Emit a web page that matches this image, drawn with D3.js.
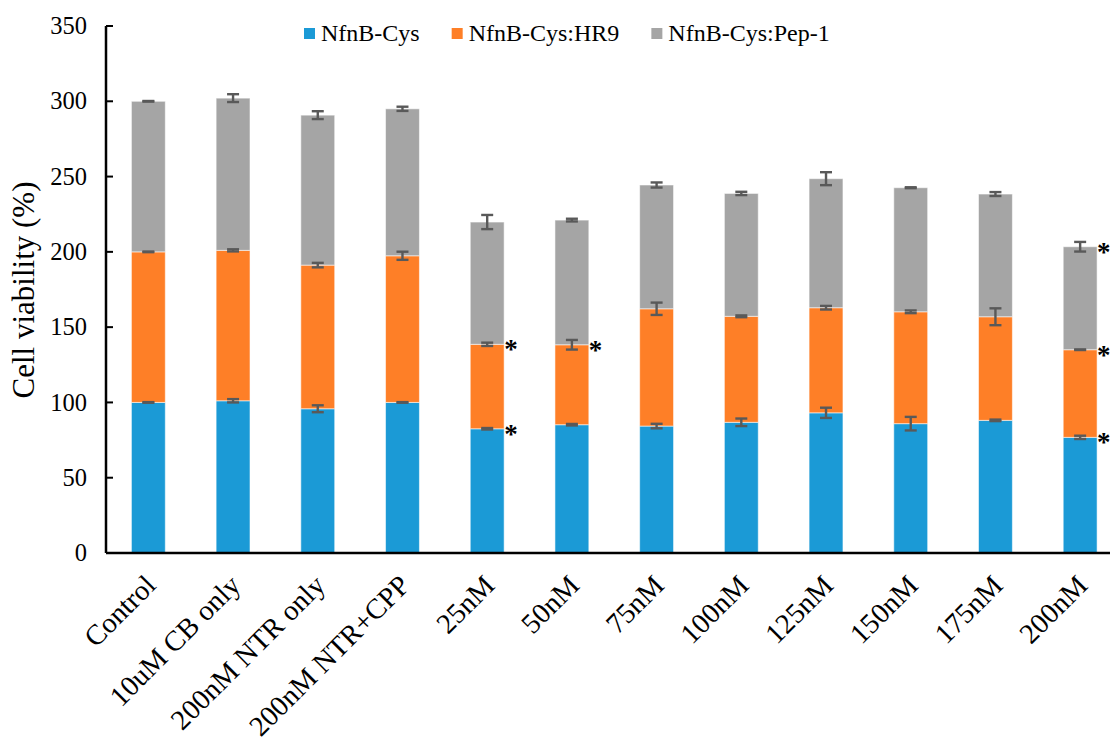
<!DOCTYPE html>
<html>
<head>
<meta charset="utf-8">
<script src="https://cdn.jsdelivr.net/npm/d3@7"></script>
<style>
  html, body { margin: 0; padding: 0; background: #fff; }
  svg { display: block; }
</style>
</head>
<body>
<svg id="chart" width="1110" height="742" font-family="'Liberation Serif', 'Times New Roman', Tinos, 'DejaVu Serif', serif"></svg>
<script>
// Treatment groups along the x axis
const categories = ["Control", "10uM CB only", "200nM NTR only", "200nM NTR+CPP",
  "25nM", "50nM", "75nM", "100nM", "125nM", "150nM", "175nM", "200nM"];

// Series names (stack order, bottom to top)
const seriesNames = ["NfnB-Cys", "NfnB-Cys:HR9", "NfnB-Cys:Pep-1"];

// Cell viability (%) of each construct, and its error (±)
const nfnbCys      = [100, 101.1, 95.8, 100, 82.5, 85.2, 84.3, 86.8, 93.1, 85.9, 88.1, 76.8];
const nfnbCysErr   = [0.2, 1.1, 2.3, 0.2, 0.5, 0.5, 1.5, 2.5, 3.4, 4.5, 0.5, 1.1];
const nfnbHR9      = [100, 99.9, 95.4, 97.4, 56.1, 53.1, 77.9, 70.4, 69.8, 74.3, 68.8, 58.2];
const nfnbHR9Err   = [0.2, 0.7, 1.5, 2.7, 1.1, 3.2, 4.1, 0.6, 1.2, 0.9, 5.6, 0.2];
const nfnbPep1     = [100, 101.1, 99.6, 97.6, 81.2, 82.8, 82.2, 81.6, 85.7, 82.4, 81.5, 68.4];
const nfnbPep1Err  = [0.2, 2.6, 2.6, 1.4, 4.7, 0.9, 1.7, 1.1, 4.3, 0.3, 1.3, 3.2];

// Significance marks: [category, series index]
const significant = [["25nM", 0], ["25nM", 1], ["50nM", 1], ["200nM", 0], ["200nM", 1], ["200nM", 2]];

// Y axis ticks
const yTicks = [0, 50, 100, 150, 200, 250, 300, 350];

const colors = ["#1b9ad6", "#fe7f27", "#a5a5a5"];

const svg = d3.select("#chart");

const x = d3.scaleBand()
  .domain(categories)
  .range([106, 1122.5])
  .paddingInner(0.6)
  .paddingOuter(0.3);

const y = d3.scaleLinear().domain([0, 350]).range([553, 26]);

// Build stacked rows
const values = [nfnbCys, nfnbHR9, nfnbPep1];
const errors = [nfnbCysErr, nfnbHR9Err, nfnbPep1Err];
const rows = categories.map((c, i) => {
  const r = { category: c };
  seriesNames.forEach((s, k) => { r[s] = values[k][i]; });
  return r;
});
const stacked = d3.stack().keys(seriesNames)(rows);

// Bars
const layers = svg.append("g").selectAll("g")
  .data(stacked)
  .join("g")
  .attr("fill", (d, k) => colors[k]);

layers.selectAll("rect")
  .data(d => d)
  .join("rect")
  .attr("x", d => x(d.data.category))
  .attr("width", x.bandwidth())
  .attr("y", d => y(d[1]))
  .attr("height", d => y(d[0]) - y(d[1]))
  .attr("stroke", "#ffffff")
  .attr("stroke-opacity", 0.55)
  .attr("stroke-width", 1);

// Error bars at each segment top
const errG = svg.append("g")
  .attr("stroke", "#595959")
  .attr("stroke-width", 2.4)
  .attr("fill", "none");

stacked.forEach((layer, k) => {
  layer.forEach((d, i) => {
    const cx = x(d.data.category) + x.bandwidth() / 2;
    const top = d[1];
    const e = errors[k][i];
    const y1 = y(top + e), y2 = y(top - e);
    const cap = 6;
    errG.append("line").attr("x1", cx).attr("x2", cx).attr("y1", y1).attr("y2", y2);
    errG.append("line").attr("x1", cx - cap).attr("x2", cx + cap).attr("y1", y1).attr("y2", y1);
    errG.append("line").attr("x1", cx - cap).attr("x2", cx + cap).attr("y1", y2).attr("y2", y2);
  });
});

// Significance asterisks
svg.append("g").selectAll("text")
  .data(significant)
  .join("text")
  .attr("x", d => x(d[0]) + x.bandwidth())
  .attr("y", d => {
    const i = categories.indexOf(d[0]);
    return y(stacked[d[1]][i][1]) + 14;
  })
  .attr("font-size", 27)
  .attr("font-weight", "bold")
  .text("*");

// Y axis
const yAxis = svg.append("g");
yAxis.append("line")
  .attr("x1", 106).attr("x2", 106)
  .attr("y1", y(350)).attr("y2", y(0))
  .attr("stroke", "#000").attr("stroke-width", 2.5);
yAxis.selectAll("line.tick")
  .data(yTicks)
  .join("line")
  .attr("class", "tick")
  .attr("x1", 106).attr("x2", 113)
  .attr("y1", d => y(d)).attr("y2", d => y(d))
  .attr("stroke", "#000").attr("stroke-width", 2);
yAxis.selectAll("text")
  .data(yTicks)
  .join("text")
  .attr("x", 87)
  .attr("y", d => y(d))
  .attr("dy", "0.33em")
  .attr("text-anchor", "end")
  .attr("font-size", 24.5)
  .text(d => d);

// X axis
svg.append("line")
  .attr("x1", 106).attr("x2", 1110)
  .attr("y1", y(0)).attr("y2", y(0))
  .attr("stroke", "#000").attr("stroke-width", 2.5);

svg.append("g").selectAll("text")
  .data(categories)
  .join("text")
  .attr("transform", d => `translate(${x(d) + x.bandwidth() / 2 + 9},${587}) rotate(-45)`)
  .attr("text-anchor", "end")
  .attr("font-size", 28.5)
  .text(d => d);

// Y axis title
svg.append("text")
  .attr("transform", "translate(34,290) rotate(-90)")
  .attr("text-anchor", "middle")
  .attr("font-size", 31)
  .text("Cell viability (%)");

// Legend
const legend = svg.append("g");
let lx = 304;
seriesNames.forEach((name, k) => {
  legend.append("rect")
    .attr("x", lx).attr("y", 28)
    .attr("width", 11).attr("height", 11)
    .attr("fill", colors[k]);
  const t = legend.append("text")
    .attr("x", lx + 17).attr("y", 41)
    .attr("font-size", 24)
    .text(name);
  lx += 17 + t.node().getComputedTextLength() + 32;
});
</script>
</body>
</html>
